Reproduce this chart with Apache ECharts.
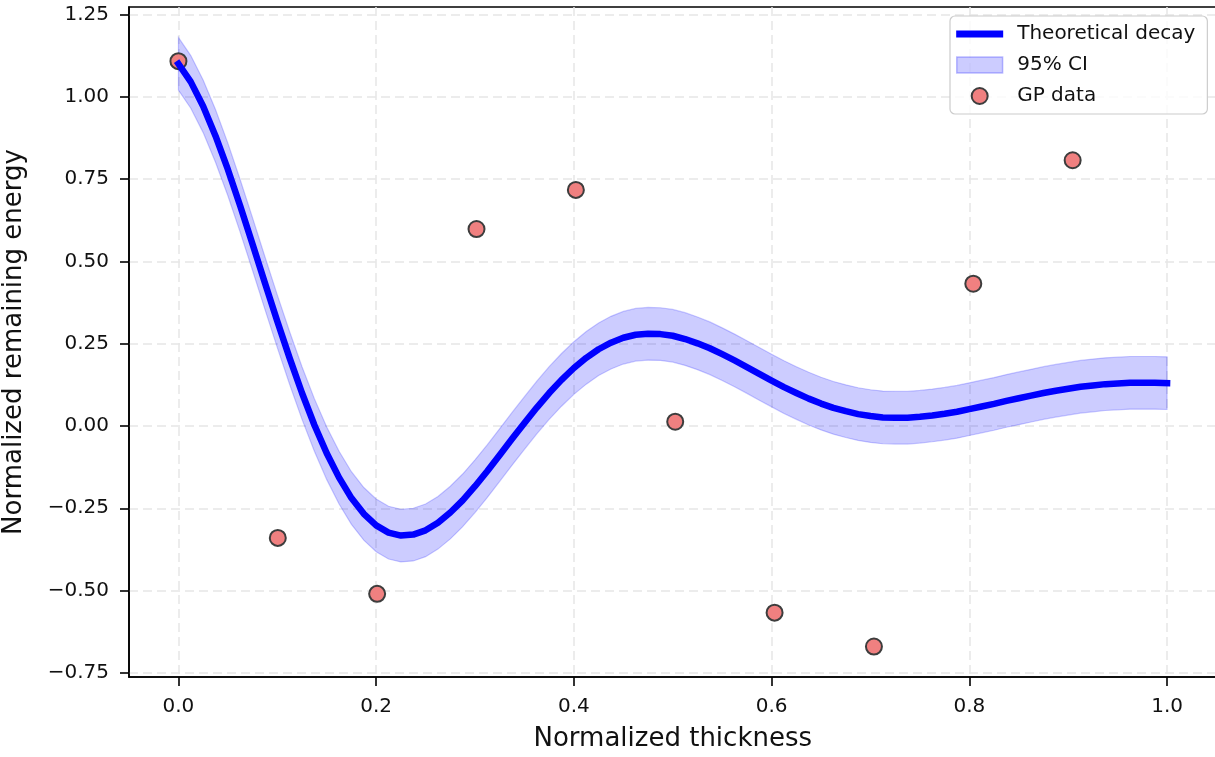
<!DOCTYPE html>
<html>
<head>
<meta charset="utf-8">
<title>Remaining energy vs thickness</title>
<script src="https://cdn.jsdelivr.net/npm/echarts@6/dist/echarts.min.js"></script>
<style>
  html, body { margin: 0; padding: 0; background: #ffffff; }
  #chart { width: 1215px; height: 757px; }
</style>
</head>
<body>
<div id="chart"></div>
<script>
// Theoretical decay curve sampled along normalized thickness
const thickness = [
  0.0000, 0.0125, 0.0250, 0.0375, 0.0500, 0.0625, 0.0750, 0.0875, 0.1000, 0.1125,
  0.1250, 0.1375, 0.1500, 0.1625, 0.1750, 0.1875, 0.2000, 0.2125, 0.2250, 0.2375,
  0.2500, 0.2625, 0.2750, 0.2875, 0.3000, 0.3125, 0.3250, 0.3375, 0.3500, 0.3625,
  0.3750, 0.3875, 0.4000, 0.4125, 0.4250, 0.4375, 0.4500, 0.4625, 0.4750, 0.4875,
  0.5000, 0.5125, 0.5250, 0.5375, 0.5500, 0.5625, 0.5750, 0.5875, 0.6000, 0.6125,
  0.6250, 0.6375, 0.6500, 0.6625, 0.6750, 0.6875, 0.7000, 0.7125, 0.7250, 0.7375,
  0.7500, 0.7625, 0.7750, 0.7875, 0.8000, 0.8125, 0.8250, 0.8375, 0.8500, 0.8625,
  0.8750, 0.8875, 0.9000, 0.9125, 0.9250, 0.9375, 0.9500, 0.9625, 0.9750, 0.9875,
  1.0000
];
const decay = [
  1.100, 1.045, 0.971, 0.881, 0.779, 0.668, 0.552, 0.434, 0.318, 0.206,
  0.100, 0.003, -0.083, -0.157, -0.219, -0.267, -0.302, -0.324, -0.333, -0.330,
  -0.317, -0.294, -0.263, -0.226, -0.183, -0.137, -0.088, -0.039, 0.009, 0.056,
  0.100, 0.140, 0.176, 0.207, 0.233, 0.253, 0.268, 0.277, 0.280, 0.279,
  0.274, 0.264, 0.251, 0.236, 0.218, 0.199, 0.179, 0.158, 0.138, 0.118,
  0.100, 0.083, 0.068, 0.055, 0.045, 0.036, 0.030, 0.026, 0.025, 0.025,
  0.028, 0.032, 0.037, 0.043, 0.051, 0.059, 0.067, 0.076, 0.084, 0.092,
  0.100, 0.107, 0.113, 0.119, 0.123, 0.127, 0.129, 0.131, 0.131, 0.131,
  0.130
];
// Half width of the 95% confidence band
const ciHalfWidth = 0.08;
// GP samples
const gpX = [0.0000, 0.1005, 0.2010, 0.3015, 0.4020, 0.5025, 0.6030, 0.7035, 0.8040, 0.9045];
const gpY = [1.108, -0.340, -0.510, 0.598, 0.717, 0.013, -0.567, -0.670, 0.432, 0.807];
// Tick positions
const xTicks = [0.0, 0.2, 0.4, 0.6, 0.8, 1.0];
const yTicks = [-0.75, -0.50, -0.25, 0.00, 0.25, 0.50, 0.75, 1.00, 1.25];

const FONT = 'DejaVu Sans';
const bandFill = 'rgba(0,0,255,0.2)';
const bandEdge = 'rgba(0,0,255,0.2)';

const decayData = thickness.map((x, i) => [x, decay[i]]);
const bandData = thickness.map((x, i) => [x, decay[i] - ciHalfWidth, decay[i] + ciHalfWidth]);
const gpData = gpX.map((x, i) => [x, gpY[i]]);

// Whole band drawn as one closed polygon (upper edge forward, lower edge back)
function renderBand(params, api) {
  if (params.dataIndex !== 0) return null;
  const upper = bandData.map(r => api.coord([r[0], r[2]]));
  const lower = bandData.map(r => api.coord([r[0], r[1]])).reverse();
  return {
    type: 'polygon',
    shape: { points: upper.concat(lower) },
    style: { fill: bandFill, stroke: bandEdge, lineWidth: 1.2 }
  };
}

const chart = echarts.init(document.getElementById('chart'), null, { renderer: 'canvas' });

const gridLine = { show: true, lineStyle: { color: '#e6e6e6', width: 1.5, type: [9, 5] } };

chart.setOption({
  animation: false,
  backgroundColor: '#ffffff',
  textStyle: { fontFamily: FONT },
  grid: {
    left: 129, top: 7, width: 1087.5, height: 670,
    containLabel: false,
    outerBoundsMode: 'none',
    show: true, borderColor: '#000', borderWidth: 1.6, backgroundColor: 'transparent'
  },
  legend: {
    left: 950, top: 16,
    orient: 'vertical',
    padding: [8, 12, 8, 6],
    itemGap: 11,
    itemWidth: 47,
    itemHeight: 16,
    backgroundColor: 'rgba(255,255,255,0.8)',
    borderColor: '#cccccc',
    borderWidth: 1.2,
    borderRadius: 5,
    textStyle: { fontFamily: FONT, fontSize: 20, color: '#111', padding: [0, 0, 0, 9] },
    data: [
      { name: 'Theoretical decay', icon: 'path://M0,0H47V7H0Z',
        itemStyle: { color: '#0000ff', borderWidth: 0 } },
      { name: '95% CI', icon: 'path://M0,0H43V15H0Z',
        itemStyle: { color: bandFill, borderColor: 'rgba(0,0,255,0.25)', borderWidth: 1.5 } },
      { name: 'GP data', icon: 'circle',
        itemStyle: { color: '#f08080', borderColor: '#3d3d3d', borderWidth: 2 } }
    ]
  },
  xAxis: {
    type: 'value',
    min: -0.05, max: 1.05,
    name: 'Normalized thickness',
    nameLocation: 'middle',
    nameGap: 49,
    nameTextStyle: { fontFamily: FONT, fontSize: 26, color: '#111' },
    axisLine: { show: true, onZero: false, lineStyle: { color: '#000', width: 1.6 } },
    axisTick: { show: true, length: 9, customValues: xTicks, lineStyle: { color: '#000', width: 1.6 } },
    axisLabel: {
      customValues: xTicks, margin: 20,
      fontFamily: FONT, fontSize: 20, color: '#111',
      formatter: v => v.toFixed(1)
    },
    splitLine: gridLine
  },
  yAxis: {
    type: 'value',
    min: -0.7625, max: 1.2725,
    name: 'Normalized remaining energy',
    nameLocation: 'middle',
    nameGap: 102,
    nameTextStyle: { fontFamily: FONT, fontSize: 26, color: '#111' },
    axisLine: { show: true, onZero: false, lineStyle: { color: '#000', width: 1.6 } },
    axisTick: { show: true, length: 9, customValues: yTicks, lineStyle: { color: '#000', width: 1.6 } },
    axisLabel: {
      customValues: yTicks, margin: 20,
      fontFamily: FONT, fontSize: 20, color: '#111',
      formatter: v => (v < 0 ? '\u2212' : '') + Math.abs(v).toFixed(2)
    },
    splitLine: gridLine
  },
  series: [
    {
      name: '95% CI',
      type: 'custom',
      data: bandData,
      encode: { x: 0, y: [1, 2] },
      renderItem: renderBand,
      silent: true,
      itemStyle: { color: bandFill },
      z: 1
    },
    {
      name: 'GP data',
      type: 'scatter',
      data: gpData,
      symbol: 'circle',
      symbolSize: 16,
      itemStyle: { color: '#f08080', borderColor: '#3d3d3d', borderWidth: 2, opacity: 1 },
      z: 2
    },
    {
      name: 'Theoretical decay',
      type: 'line',
      data: decayData,
      smooth: false,
      symbol: 'none',
      lineStyle: { color: '#0000ff', width: 6.5, cap: 'square', join: 'round' },
      itemStyle: { color: '#0000ff' },
      z: 3
    }
  ]
});
</script>
</body>
</html>
